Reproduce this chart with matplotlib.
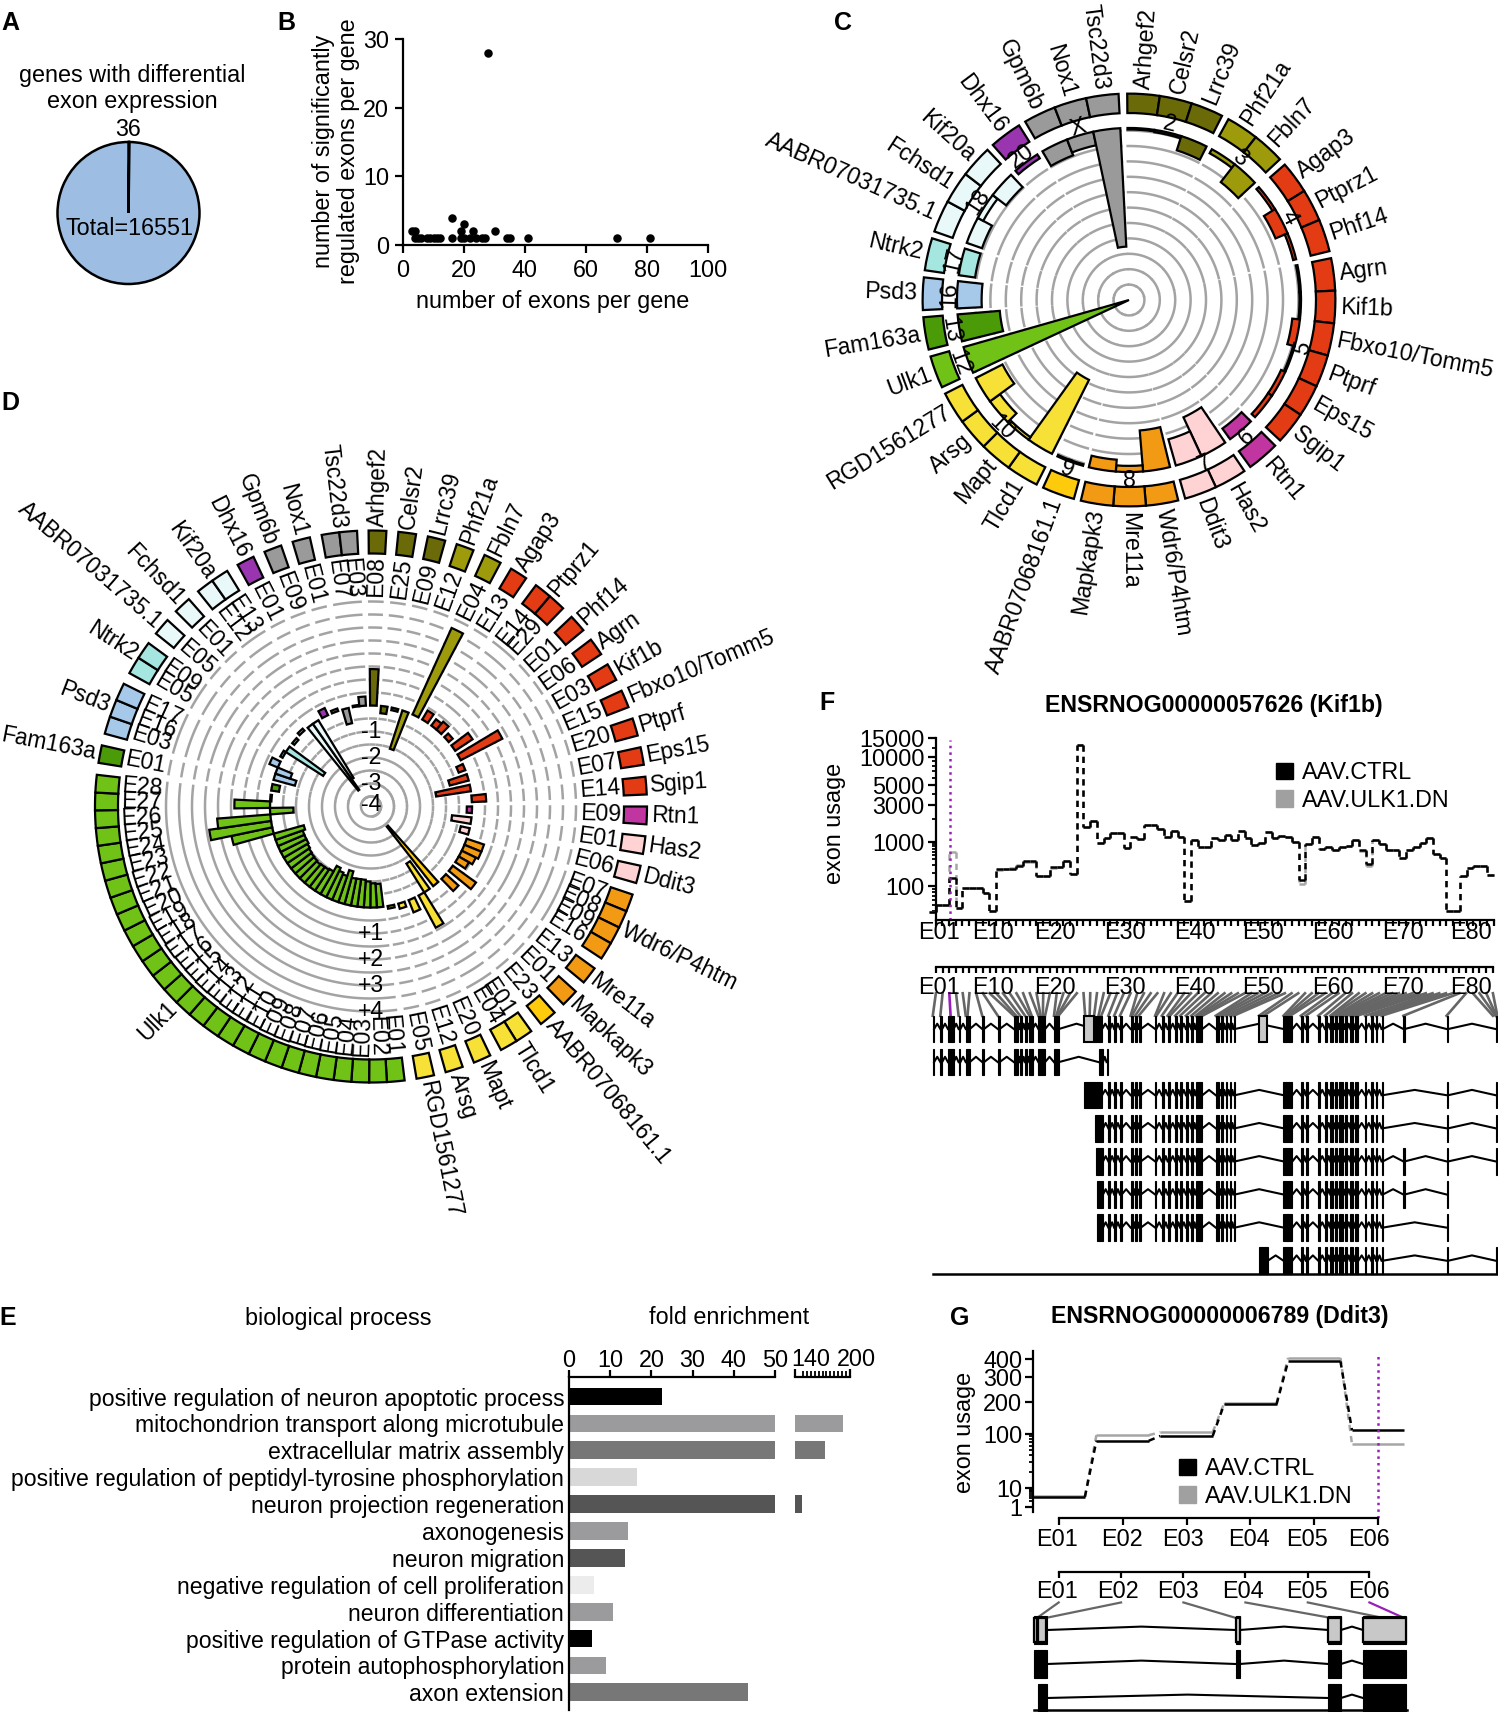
import numpy as np
import matplotlib
matplotlib.use('Agg')
import matplotlib.pyplot as plt
from matplotlib.patches import Patch

plt.rcParams['font.family'] = ['Liberation Sans', 'DejaVu Sans']
plt.rcParams['font.size'] = 16.8
plt.rcParams['axes.linewidth'] = 1.6
plt.rcParams['xtick.major.width'] = 1.6
plt.rcParams['ytick.major.width'] = 1.6
plt.rcParams['xtick.minor.width'] = 1.3
plt.rcParams['ytick.minor.width'] = 1.3

W, H = 1498, 1712

# panel A
pie_values = [36, 16515]

# panel B
scatter_x = [3, 4, 4, 5, 6, 8, 9, 10, 11, 12, 16, 16, 19, 19, 20, 20, 22, 23, 24, 26, 27, 28, 30, 34, 35, 41, 70, 81]
scatter_y = [2, 2, 1, 1, 1, 1, 1, 1, 1, 1, 4, 1, 2, 1, 3, 1, 1, 2, 1, 1, 1, 28, 2, 1, 1, 1, 1, 1]

# panels C and D share the genes
genes = ['Arhgef2', 'Celsr2', 'Lrrc39', 'Phf21a', 'Fbln7', 'Agap3', 'Ptprz1', 'Phf14', 'Agrn', 'Kif1b',
         'Fbxo10/Tomm5', 'Ptprf', 'Eps15', 'Sgip1', 'Rtn1', 'Has2', 'Ddit3', 'Wdr6/P4htm', 'Mre11a',
         'Mapkapk3', 'AABR07068161.1', 'Tlcd1', 'Mapt', 'Arsg', 'RGD1561277', 'Ulk1', 'Fam163a', 'Psd3',
         'Ntrk2', 'AABR07031735.1', 'Fchsd1', 'Kif20a', 'Dhx16', 'Gpm6b', 'Nox1', 'Tsc22d3']
gene_chrom = ['2', '2', '2', '3', '3', '4', '4', '4', '5', '5', '5', '5', '5', '5', '6', '7', '7', '8', '8', '8',
              '9', '10', '10', '10', '10', '12', '13', '16', '17', '18', '18', '18', '20', 'X', 'X', 'X']
chrom_colors = {'2': '#6b6a08', '3': '#9d9b0c', '4': '#e33b14', '5': '#e33b14', '6': '#c0359f', '7': '#ffd3d3',
                '8': '#f39a14', '9': '#fdca0c', '10': '#f7e136', '12': '#70c216', '13': '#4b9a08',
                '16': '#a6c9e9', '17': '#a6e6e1', '18': '#e9f8f8', '20': '#9a35b0', 'X': '#9a9a9a'}

# panel C, depth of each bar in ring units
c_depth = [0.1, 0.15, 0.97, 0.3, 1.47, 0.2, 0.85, 0.2, 0.1, 0.1, 0.5, 0.1, 0.3, 0.3, 0.85, 2.77, 1.77, 2.67, 0.4, 0.77,
           0.1, 5.37, 0.2, 0.8, 1.95, 11.17, 2.75, 1.6, 1.07, 1.05, 0.4, 1.1, 0.3, 1.1, 0.9, 7.7]

# panel D
d_exons = [['E08'], ['E25'], ['E09'], ['E12'], ['E04'], ['E13'], ['E14', 'E29'], ['E01'], ['E06'], ['E03'],
           ['E15'], ['E20'], ['E07'], ['E14'], ['E09'], ['E01'], ['E06'], ['E07', 'E08', 'E09', 'E16'], ['E13'],
           ['E01'], ['E23'], ['E01', 'E04'], ['E20'], ['E12'], ['E05'],
           ['E01', 'E02', 'E03', 'E04', 'E05', 'E06', 'E07', 'E08', 'E09', 'E10', 'E11', 'E12', 'E13', 'E14',
            'E15', 'E16', 'E17', 'E18', 'E19', 'E20', 'E21', 'E22', 'E23', 'E24', 'E25', 'E26', 'E27', 'E28'],
           ['E01'], ['E03', 'E16', 'E17'], ['E05', 'E09'], ['E05'], ['E01'], ['E12', 'E13'], ['E01'], ['E09'],
           ['E01'], ['E07', 'E03']]
d_lfc = [[1.4], [-0.28], [-0.1], [-1.55], [3.65], [0.4], [0.3, 0.4], [0.2], [0.8], [1.8],
         [-0.27], [-0.75], [-1.35], [0.55], [-0.2], [-0.75], [-0.35], [0.7, 0.7, 0.6, 0.45], [1.1],
         [0.65], [-2.9], [-1.3, 1.4], [0.5], [0.2], [0.1],
         [-0.9, -0.93, -1.0, -1.06, -1.06, -1.05, -1.3, -1.06, -1.13, -1.25, -1.0, -0.96, -0.95, -0.92,
          -0.95, -0.97, -1.0, -1.05, -1.1, -1.1, -1.1, -1.2, 1.6, 2.4, 2.05, -0.9, 1.37, -0.05],
         [-0.3], [-0.85, -0.6, 0.35], [0.1, -1.7], [-0.1], [0.1], [-3.1, -2.6], [0.3], [0.1],
         [-0.6], [0.05, 0.35]]
d_ring_labels = ['-1', '-2', '-3', '-4', '+1', '+2', '+3', '+4']
d_ring_values = [-1, -2, -3, -3.82, 1, 2, 3, 4]

# panel E
go_terms = ['positive regulation of neuron apoptotic process', 'mitochondrion transport along microtubule',
            'extracellular matrix assembly', 'positive regulation of peptidyl-tyrosine phosphorylation',
            'neuron projection regeneration', 'axonogenesis', 'neuron migration',
            'negative regulation of cell proliferation', 'neuron differentiation',
            'positive regulation of GTPase activity', 'protein autophosphorylation', 'axon extension']
go_enrichment = [22.5, 190.6, 168, 16.5, 138.6, 14.4, 13.7, 6, 10.6, 5.6, 9, 43.4]
go_colors = ['#000000', '#9b9b9e', '#777777', '#d8d8d8', '#555555', '#9b9b9e', '#555555', '#ececec',
             '#9b9b9e', '#000000', '#9b9b9e', '#777777']

# panel F usage
f_ctrl = [39, 50, 50, 152, 46, 92, 92, 92, 77, 41, 246, 246, 246, 285, 366, 366, 169, 169, 267, 267, 366, 187,
          13000, 1555, 1860, 940, 1127, 1315, 1315, 730, 1170, 1090, 1650, 1650, 1460, 1170, 1400, 1170, 58,
          1060, 760, 760, 1127, 1060, 1240, 1060, 1400, 1127, 845, 960, 1350, 1127, 1200, 1150, 1000, 137, 900,
          1170, 690, 760, 650, 780, 810, 1060, 650, 316, 1060, 900, 650, 650, 430, 650, 780, 960, 1127, 530,
          430, 41, 41, 169, 257, 285, 285, 180]
f_dn = [39, 50, 50, 593, 46, 92, 92, 92, 77, 41, 235, 240, 255, 300, 350, 350, 169, 169, 260, 267, 366, 187,
        13000, 1555, 1860, 960, 1127, 1290, 1315, 740, 1170, 1090, 1650, 1650, 1460, 1170, 1400, 1170, 58,
        1060, 760, 760, 1127, 1060, 1240, 1060, 1400, 1127, 845, 960, 1350, 1127, 1200, 1150, 1000, 110, 880,
        1170, 700, 760, 650, 780, 810, 1060, 620, 280, 1060, 900, 650, 650, 430, 650, 780, 960, 1127, 530,
        430, 41, 41, 169, 257, 285, 285, 180]
f_tick_vals = [100, 1000, 3000, 5000, 10000, 15000]
f_minor_vals = [40, 50, 60, 70, 80, 90, 200, 300, 400, 500, 600, 700, 800, 900, 2000, 4000, 6000, 7000, 8000, 9000, 12000]
f_scale_vals = [30, 100, 1000, 3000, 5000, 10000, 15000]
f_scale_pos = [0, 81, 187, 276, 323, 392, 437]
f_exon_names = ['E01', 'E10', 'E20', 'E30', 'E40', 'E50', 'E60', 'E70', 'E80']
f_name_pos = [313, 433, 573, 730, 887, 1040, 1197, 1353, 1505]

# panel F transcripts, exon start and width along the gene
f_part_a = [(298, 3), (315, 4), (332, 13), (356, 4), (372, 9), (409, 4), (444, 4), (480, 10), (494, 5), (505, 5),
            (515, 7), (535, 15), (570, 11)]
f_part_c = [(692, 4), (705, 4), (718, 4), (742, 6), (752, 4), (760, 5), (797, 3), (812, 5), (825, 6), (842, 4),
            (853, 4), (866, 4), (878, 5), (888, 15), (933, 8), (945, 5), (955, 4), (965, 3), (973, 3)]
f_part_d = [(1085, 20), (1124, 5), (1135, 4), (1163, 3), (1178, 5), (1190, 6), (1200, 5), (1210, 8), (1222, 6),
            (1235, 5), (1245, 8), (1268, 3), (1282, 3), (1293, 3), (1305, 3)]
f_rows = [
    f_part_a + [(660, 18)] + f_part_c + f_part_d + [(1354, 3), (1451, 4), (1561, 4)],
    f_part_a + [(670, 10), (688, 4)],
    [(638, 40)] + f_part_c + f_part_d + [(1451, 4), (1561, 4)],
    [(662, 18)] + f_part_c + f_part_d + [(1451, 4), (1561, 4)],
    [(664, 16)] + f_part_c + f_part_d + [(1354, 3), (1451, 4), (1561, 4)],
    [(666, 14)] + f_part_c + f_part_d + [(1354, 3), (1451, 4)],
    [(666, 14)] + f_part_c + f_part_d + [(1451, 4)],
    [(1030, 20)] + f_part_d + [(1451, 4), (1561, 4)],
]
f_gray_exons = [(638, 22), (1030, 18)]
f_link_targets = [298, 315, 338, 356, 372, 376, 409, 444, 480, 485, 494, 505, 515, 520, 535, 540, 545, 550, 570, 575,
                  578, 580, 640, 650, 660, 670, 676, 692, 705, 718, 742, 745, 752, 760, 797, 800, 812, 825, 830,
                  842, 853, 866, 878, 888, 893, 898, 903, 933, 938, 945, 955, 965, 973, 1030, 1040, 1085, 1090,
                  1095, 1100, 1124, 1135, 1163, 1178, 1190, 1193, 1200, 1204, 1210, 1214, 1222, 1226, 1235,
                  1245, 1250, 1268, 1282, 1293, 1305, 1354, 1451, 1555, 1561, 1563, 1565]

# panel G usage
g_exons = ['E01', 'E02', 'E03', 'E04', 'E05', 'E06']
g_ctrl = [3.4, 75, 92, 190, 385, 108]
g_dn = [3.6, 95, 104, 194, 410, 65]
g_tick_vals = [1, 10, 100, 200, 300, 400]
g_minor_vals = [2, 3, 4, 5, 6, 7, 8, 9, 20, 30, 40, 50, 60, 70, 80, 90]
g_scale_vals = [0.5, 1, 10, 100, 200, 300, 400, 480]
g_scale_pos = [0, 11, 30, 84, 116.3, 141, 159, 167]
g_rows = [[(265, 35), (830, 11), (1090, 35), (1187, 120)],
          [(265, 35), (830, 11), (1090, 35), (1187, 120)],
          [(276, 24), (1090, 35), (1187, 120)]]
g_link_tops = [333, 508, 683, 857, 1032, 1205]
g_link_targets = [270, 290, 835, 1105, 1250, 1305]

fig = plt.figure(figsize=(W / 100, H / 100), dpi=100)


def px_axes(x0, y0, x1, y1, **kw):
    return fig.add_axes([x0 / W, 1 - y1 / H, (x1 - x0) / W, (y1 - y0) / H], **kw)


ann = px_axes(0, 0, W, H)
ann.set_xlim(0, W)
ann.set_ylim(H, 0)
ann.axis('off')
ann.set_zorder(10)


def label(x, y, s, **kw):
    kw.setdefault('ha', 'center')
    kw.setdefault('va', 'center')
    ann.text(x, y + 2, s, **kw)


for s, x, y in [('A', 10, 21), ('B', 286, 21), ('C', 843, 21), ('D', 10, 401), ('E', 8, 1316), ('F', 827, 701), ('G', 960, 1316)]:
    label(x, y, s, fontsize=18, fontweight='bold')

# A
ax = px_axes(57, 142, 200, 284)
ax.pie(pie_values, startangle=90, counterclock=False, colors=['#9dbde3', '#9dbde3'],
       wedgeprops={'edgecolor': 'black', 'linewidth': 1.8, 'clip_on': False})
ax.set_xlim(-1, 1)
ax.set_ylim(-1, 1)
label(132, 73, 'genes with differential')
label(132, 99, 'exon expression')
label(128, 127, '36')
label(129, 226, 'Total=16551')

# B
ax = px_axes(403, 39, 708, 245)
ax.scatter(scatter_x, scatter_y, s=26, color='black', clip_on=False, zorder=3)
ax.set_xlim(0, 100)
ax.set_ylim(0, 30)
ax.spines[['top', 'right']].set_visible(False)
ax.set_xticks(range(0, 101, 20))
ax.set_yticks([0, 10, 20, 30])
ax.tick_params(length=6, pad=4)
label(553, 299, 'number of exons per gene')
label(336, 149, 'number of significantly\nregulated exons per gene', rotation=90, linespacing=1.1)


def polar_axes(cx, cy, radius):
    a = px_axes(cx - radius, cy - radius, cx + radius, cy + radius, projection='polar')
    a.set_theta_zero_location('N')
    a.set_theta_direction(-1)
    a.set_axis_off()
    return a


def radial_text(a, deg, r, s, inner_start=True, **kw):
    # text lies along the radius, reading away from the ring on the right half
    d = deg % 360
    right = d < 180
    if right:
        rot = 90 - d
        ha = 'left' if inner_start else 'right'
    else:
        rot = 270 - d
        ha = 'right' if inner_start else 'left'
    a.text(np.radians(deg), r, s, rotation=rot, rotation_mode='anchor', ha=ha, va='center', **kw)


# C
C_STEP = 15.4
C_BASE = 11.17
ax = polar_axes(1129, 300, 209)
w, g = 9.1, 2.0
pos = -0.5
prev = None
group_span = {}
for i, gene in enumerate(genes):
    chrom = gene_chrom[i]
    if prev is not None and chrom != prev:
        pos += g
    prev = chrom
    group_span.setdefault(chrom, [pos, pos])
    mid = pos + w / 2
    color = chrom_colors[chrom]
    ax.bar(np.radians(mid), c_depth[i], np.radians(w), bottom=C_BASE - c_depth[i], color=color,
           edgecolor='black', linewidth=1.6, zorder=3)
    ax.bar(np.radians(mid), 1.26, np.radians(w), bottom=12.14, color=color, edgecolor='black',
           linewidth=1.6, zorder=3)
    radial_text(ax, mid, 13.75, gene, fontsize=16.7)
    pos += w
    group_span[chrom][1] = pos
for chrom, (a0, a1) in group_span.items():
    th = np.radians(np.linspace(a0, a1, 60))
    for k in range(1, 12):
        ax.plot(th, np.full(60, k), color='#a3a3a3', lw=1.8, zorder=1)
    mid = (a0 + a1) / 2
    rot = -mid if (mid % 360 < 90 or mid % 360 > 270) else 180 - mid
    ax.text(np.radians(mid), 11.7, chrom, rotation=rot, rotation_mode='anchor', ha='center', va='center',
            fontsize=16.7, zorder=5)
ax.set_rlim(0, 209 / C_STEP)

# D
D_UNIT = 26.0
D_ORIGIN = 101.0
ax = polar_axes(371, 806.5, 292)
w, g = 3.7, 2.5
pos = -0.5
track_in = (253 - D_ORIGIN) / D_UNIT
track_h = 23 / D_UNIT
label_r = (250 - D_ORIGIN) / D_UNIT
gene_r = (280 - D_ORIGIN) / D_UNIT
for i, gene in enumerate(genes):
    color = chrom_colors[gene_chrom[i]]
    start = pos
    for name, val in zip(d_exons[i], d_lfc[i]):
        mid = pos + w / 2
        ax.bar(np.radians(mid), val, np.radians(w), bottom=0, color=color, edgecolor='black', linewidth=1.6, zorder=3)
        ax.bar(np.radians(mid), track_h, np.radians(w), bottom=track_in, color=color, edgecolor='black',
               linewidth=1.6, zorder=3)
        radial_text(ax, mid, label_r, name, inner_start=False, fontsize=16.6, zorder=4)
        pos += w
    th = np.radians(np.linspace(start, pos, 60))
    for v in np.arange(-3.5, 4.01, 0.5):
        ax.plot(th, np.full(60, v), color='#a3a3a3', lw=1.8, zorder=1)
    radial_text(ax, (start + pos) / 2, gene_r, gene, fontsize=16.4)
    pos += g
for s, v in zip(d_ring_labels, d_ring_values):
    ax.text(0 if v < 0 else np.pi, v, s, ha='center', va='center', fontsize=16.6, zorder=5)
ax.set_rlim(-D_ORIGIN / D_UNIT, (292 - D_ORIGIN) / D_UNIT)

# E
row0, rstep = 1396.6, 26.88
ylim_e = ((1710 - row0) / rstep, (1377 - row0) / rstep)
rows = np.arange(len(go_terms))
ax = px_axes(569, 1377, 775, 1710)
ax.barh(rows, go_enrichment, height=0.66, color=go_colors)
ax.set_xlim(0, 50)
ax.set_ylim(*ylim_e)
ax.spines[['bottom', 'right']].set_visible(False)
ax.xaxis.tick_top()
ax.set_xticks(range(0, 51, 10))
ax.set_yticks(rows)
ax.set_yticklabels(go_terms, fontsize=16.6)
ax.tick_params(axis='x', length=5, pad=-1.5)
ax.tick_params(axis='y', length=0, pad=3.5)
ax2 = px_axes(795, 1377, 850, 1710)
ax2.barh(rows, go_enrichment, height=0.66, color=go_colors)
ax2.set_xlim(130, 200)
ax2.set_ylim(*ylim_e)
ax2.spines[['bottom', 'right', 'left']].set_visible(False)
ax2.xaxis.tick_top()
ax2.set_xticks([130, 200])
ax2.set_xticklabels(['', ''])
ax2.set_xticks(np.arange(140, 200, 5), minor=True)
ax2.set_yticks([])
ax2.tick_params(axis='x', which='major', length=6)
ax2.tick_params(axis='x', which='minor', length=4)
label(811, 1358, '140')
label(856, 1358, '200')
label(338, 1316, 'biological process')
label(729, 1316, 'fold enrichment')


def make_scale(vals, pos_list):
    lv = np.log10(vals)
    fwd = lambda v: np.interp(np.log10(np.maximum(v, 1e-3)), lv, pos_list)
    inv = lambda p: 10 ** np.interp(p, pos_list, lv)
    return fwd, inv


def draw_usage(a, x0, x1, vals, color):
    a.hlines(vals, x0, x1, color=color, lw=1.8, clip_on=False)
    for i in range(len(vals) - 1):
        a.plot([x1[i], x0[i + 1]], [vals[i], vals[i + 1]], color=color, lw=1.8, ls=(0, (2.5, 2)), clip_on=False)


def draw_transcript(a, row, exons, base_lift=0.16):
    exons = sorted(exons)
    for (s0, w0), (s1, w1) in zip(exons[:-1], exons[1:]):
        e0 = s0 + w0
        if s1 > e0:
            a.plot([e0, (e0 + s1) / 2, s1], [row, row - base_lift, row], color='black', lw=1.5, zorder=2)
    a.barh(np.full(len(exons), row), [e[1] for e in exons], left=[e[0] for e in exons], height=0.8,
           color='black', edgecolor='black', linewidth=0.8, zorder=3)


# F usage
f_idx = np.arange(1, len(f_ctrl) + 1)
ax = px_axes(935.5, 738, 1493.5, 919.5)
fwd, inv = make_scale(f_scale_vals, f_scale_pos)
ax.set_yscale('function', functions=(fwd, inv))
draw_usage(ax, f_idx - 1, f_idx, f_dn, '#a6a6a6')
draw_usage(ax, f_idx - 1, f_idx, f_ctrl, 'black')
ax.axvline(3.2, color='#9a1fb8', ls=':', lw=1.8, ymin=0, ymax=0.99)
ax.set_xlim(1, 84)
ax.set_ylim(30, 15000)
ax.spines[['top', 'right']].set_visible(False)
ax.set_xticks(f_idx)
ax.set_xticklabels([])
ax.tick_params(axis='x', length=4)
ax.set_yticks(f_tick_vals)
ax.set_yticklabels([str(v) for v in f_tick_vals])
ax.set_yticks(f_minor_vals, minor=True)
ax.yaxis.set_minor_formatter(plt.NullFormatter())
ax.tick_params(axis='y', which='major', length=6, pad=2)
ax.tick_params(axis='y', which='minor', length=3)
for s, z in zip(f_exon_names, f_name_pos):
    label(800 + z / 2.244, 930, s)
label(835, 821, 'exon usage', rotation=90)
label(1214, 703, 'ENSRNOG00000057626 (Kif1b)', fontsize=16.7, fontweight='bold')
fig.legend(handles=[Patch(color='black'), Patch(color='#a0a0a0')], labels=['AAV.CTRL', 'AAV.ULK1.DN'],
           loc='upper left', bbox_to_anchor=(1276 / W, 1 - 761 / H), frameon=False, borderpad=0, borderaxespad=0,
           handlelength=0.72, handleheight=0.72, handletextpad=0.4, labelspacing=0.2, fontsize=16.8)

# F transcripts
row_px, row_step = 1029, 33.1
ax = px_axes(929.2, 966.7, 1499.6, 1280)
ax.set_xlim(290, 1570)
ax.set_ylim((1280 - row_px) / row_step + 1, (966.7 - row_px) / row_step + 1)
ax.spines[['left', 'right', 'bottom']].set_visible(False)
ax.spines['top'].set_bounds(305, 1555)
ax.xaxis.tick_top()
f_ticks = np.linspace(305, 1555, len(f_link_targets))
ax.set_xticks(f_ticks)
ax.set_xticklabels([])
ax.set_yticks([])
ax.tick_params(axis='x', direction='in', length=4)
for r, exons in enumerate(f_rows, start=1):
    draw_transcript(ax, r, exons)
ax.barh([1] * len(f_gray_exons), [e[1] for e in f_gray_exons], left=[e[0] for e in f_gray_exons], height=0.8,
        color='#c8c8c8', edgecolor='black', linewidth=1.5, zorder=4)
for i, (t, b) in enumerate(zip(f_ticks, f_link_targets)):
    ax.plot([t, b], [-0.08, 0.6], color='#9a1fb8' if i == 2 else '#666666', lw=1.9, zorder=1)
ax.plot([298, 1565], [8.4, 8.4], color='black', lw=1.8)
for s, z in zip(f_exon_names, f_name_pos):
    label(800 + z / 2.244, 985, s)

# G usage
ax = px_axes(1033.4, 1351, 1410, 1518)
fwd, inv = make_scale(g_scale_vals, g_scale_pos)
ax.set_yscale('function', functions=(fwd, inv))
g_idx = np.arange(1, 7)
draw_usage(ax, g_idx - 0.41, g_idx + 0.41, g_dn, '#a6a6a6')
draw_usage(ax, g_idx - 0.41, g_idx + 0.41, g_ctrl, 'black')
ax.axvline(6, color='#9a1fb8', ls=':', lw=1.8, ymin=0, ymax=0.99)
ax.set_xlim(1 - 25.3 / 63.9, 1 + 351.3 / 63.9)
ax.set_ylim(0.5, 480)
ax.spines[['top', 'right']].set_visible(False)
ax.spines['bottom'].set_bounds(1, 6)
ax.spines['left'].set_bounds(0.71, 480)
ax.set_xticks(g_idx)
ax.set_xticklabels([])
ax.tick_params(axis='x', length=5)
ax.set_yticks(g_tick_vals)
ax.set_yticklabels([str(v) for v in g_tick_vals])
ax.set_yticks(g_minor_vals, minor=True)
ax.yaxis.set_minor_formatter(plt.NullFormatter())
ax.tick_params(axis='y', which='major', length=6, pad=2)
ax.tick_params(axis='y', which='minor', length=3)
for s, z in zip(g_exons, [327, 510, 682, 867, 1030, 1203]):
    label(940 + z / 2.806, 1537, s)
label(965, 1430, 'exon usage', rotation=90)
label(1220, 1315, 'ENSRNOG00000006789 (Ddit3)', fontsize=16.7, fontweight='bold')
fig.legend(handles=[Patch(color='black'), Patch(color='#a0a0a0')], labels=['AAV.CTRL', 'AAV.ULK1.DN'],
           loc='upper left', bbox_to_anchor=(1179 / W, 1 - 1457 / H), frameon=False, borderpad=0, borderaxespad=0,
           handlelength=0.72, handleheight=0.72, handletextpad=0.4, labelspacing=0.2, fontsize=16.8)

# G transcripts
row_px, row_step = 1630, 34.0
ax = px_axes(1030.9, 1571.7, 1410.4, 1712)
ax.set_xlim(255, 1320)
ax.set_ylim((1712 - row_px) / row_step + 1, (1571.7 - row_px) / row_step + 1)
ax.spines[['left', 'right', 'bottom']].set_visible(False)
ax.spines['top'].set_bounds(333, 1205)
ax.xaxis.tick_top()
ax.set_xticks(g_link_tops)
ax.set_xticklabels([])
ax.set_yticks([])
ax.tick_params(axis='x', direction='in', length=4)
for r, exons in enumerate(g_rows, start=1):
    draw_transcript(ax, r, exons, base_lift=0.1)
ax.barh([1] * 5, [8, 22, 11, 35, 120], left=[265, 275, 830, 1090, 1187], height=0.68, color='#c8c8c8',
        edgecolor='black', linewidth=1.6, zorder=4)
for i, (t, b) in enumerate(zip(g_link_tops, g_link_targets)):
    ax.plot([t, b], [0.19, 0.66], color='#9a1fb8' if i == 5 else '#666666', lw=1.6, zorder=1)
ax.plot([265, 1310], [3.35, 3.35], color='black', lw=1.8)
for s, z in zip(g_exons, [327, 500, 668, 850, 1030, 1203]):
    label(940 + z / 2.806, 1590, s)

fig.savefig('out.png', dpi=100)
